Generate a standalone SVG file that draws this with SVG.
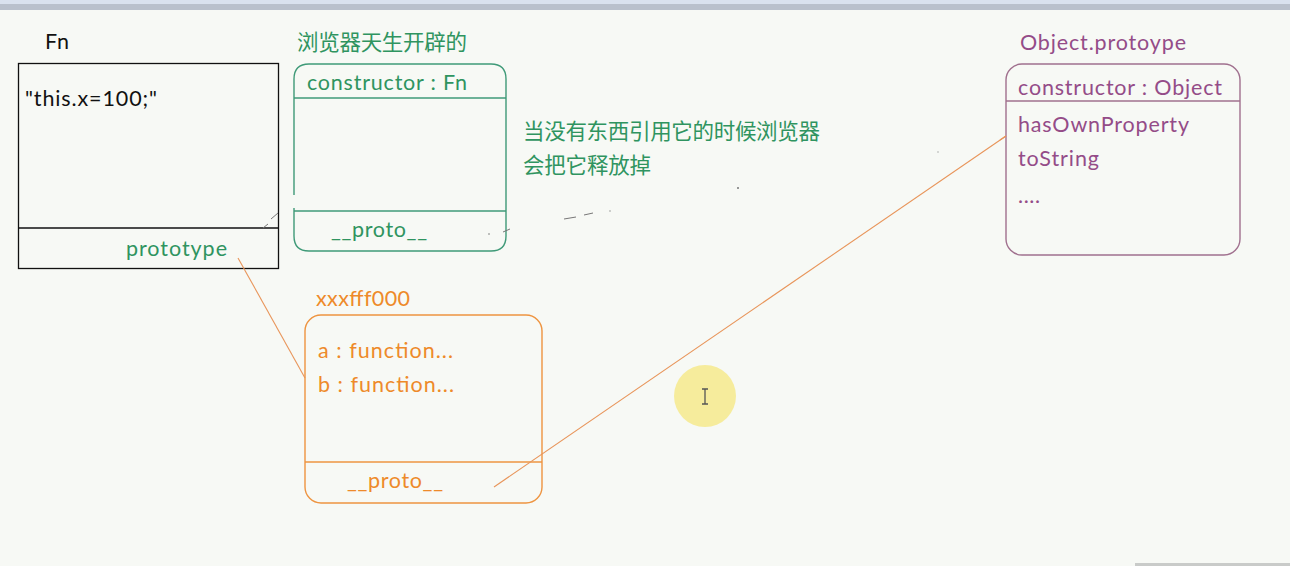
<svg xmlns="http://www.w3.org/2000/svg" width="1290" height="566" viewBox="0 0 1290 566">
<style>
text{font-family:Lato,"Open Sans","Noto Sans CJK SC",sans-serif;font-size:21.5px}
.cjk{font-family:"Noto Sans CJK SC",sans-serif}
.g{fill:#2f9460}
.o{fill:#ee8a2a}
.p{fill:#944c88}
.k{fill:#111}
.boxg{fill:none;stroke:#3f9a78;stroke-width:1.4}
.boxo{fill:none;stroke:#ee9440;stroke-width:1.4}
.boxp{fill:none;stroke:#a0708e;stroke-width:1.4}
.conn{fill:none;stroke:#e8955a;stroke-width:1.1}
.mark{fill:none;stroke:#777;stroke-width:1}
</style>
<rect x="0" y="0" width="1290" height="566" fill="#f7f9f5"/>
<rect x="0" y="0" width="1290" height="4" fill="#d9e1ee"/>
<rect x="0" y="4" width="1290" height="6" fill="#b9c0cc"/>
<rect x="1135" y="563" width="155" height="3" fill="#c9cbc9"/>

<g id="fn">
<text x="45" y="49" class="k" textLength="24">Fn</text>
<rect x="18.5" y="63.5" width="260" height="205" fill="none" stroke="#111" stroke-width="1.3"/>
<line x1="18.5" y1="228" x2="278.5" y2="228" stroke="#111" stroke-width="1.3"/>
<text x="25" y="106" class="k" font-size="20.5" textLength="132">"this.x=100;"</text>
<text x="126" y="256" class="g" textLength="101">prototype</text>
</g>

<g id="fnproto">
<text x="297" y="50" class="g cjk" font-size="20.5" textLength="170">浏览器天生开辟的</text>
<path class="boxg" d="M294 195 V79 Q294 64 309 64 H491 Q506 64 506 79 V236 Q506 251 491 251 H309 Q294 251 294 236 V208"/>
<line class="boxg" x1="294" y1="98" x2="506" y2="98"/>
<line class="boxg" x1="294" y1="211" x2="506" y2="211"/>
<text x="307" y="90" class="g" textLength="160">constructor : Fn</text>
<text x="331" y="237" class="g" textLength="96">__proto__</text>
</g>

<g id="note">
<text x="523" y="139" class="g cjk" font-size="21" textLength="297">当没有东西引用它的时候浏览器</text>
<text x="523" y="173" class="g cjk" font-size="21" textLength="128">会把它释放掉</text>
</g>

<g id="xxxfff000">
<text x="316" y="306" class="o" font-size="19.5" textLength="94">xxxfff000</text>
<rect class="boxo" x="305" y="315" width="237" height="188" rx="16"/>
<line class="boxo" x1="305" y1="462" x2="542" y2="462"/>
<text x="318" y="358" class="o" textLength="135">a : function...</text>
<text x="318" y="392" class="o" textLength="136">b : function...</text>
<text x="347" y="488" class="o" textLength="96">__proto__</text>
</g>

<g id="objectproto">
<text x="1020" y="50" class="p" textLength="166">Object.protoype</text>
<rect class="boxp" x="1006" y="64" width="234" height="191" rx="16"/>
<line class="boxp" x1="1006" y1="101" x2="1240" y2="101"/>
<text x="1018" y="95" class="p" textLength="204">constructor : Object</text>
<text x="1018" y="132" class="p" textLength="171">hasOwnProperty</text>
<text x="1018" y="166" class="p" textLength="81">toString</text>
<text x="1018" y="203" class="p" font-size="16" textLength="22">....</text>
</g>

<g id="connectors">
<line class="conn" x1="238" y1="258" x2="305" y2="378"/>
<line class="conn" x1="494" y1="487" x2="1006" y2="136"/>
<line class="conn" x1="1000" y1="140" x2="1006" y2="136" stroke-width="1.4"/>
</g>

<g id="marks">
<path class="mark" d="M263 228 L268 224 M271 219 L278 213"/>
<path class="mark" d="M503 232 L510 229"/>
<circle cx="489" cy="234" r="0.8" fill="#777"/>
<path class="mark" d="M564 219 L576 217 M584 215 L593 213"/>
<circle cx="610" cy="211" r="0.8" fill="#999"/>
<circle cx="738" cy="188" r="1" fill="#777"/>
<circle cx="938" cy="152" r="0.8" fill="#aaa"/>
</g>

<g id="cursor">
<circle cx="705" cy="396" r="31" fill="#f6ec9c"/>
<path d="M702 389 H708 M705 389 V404 M702 404 H708" stroke="#555" stroke-width="1.3" fill="none"/>
</g>
</svg>
